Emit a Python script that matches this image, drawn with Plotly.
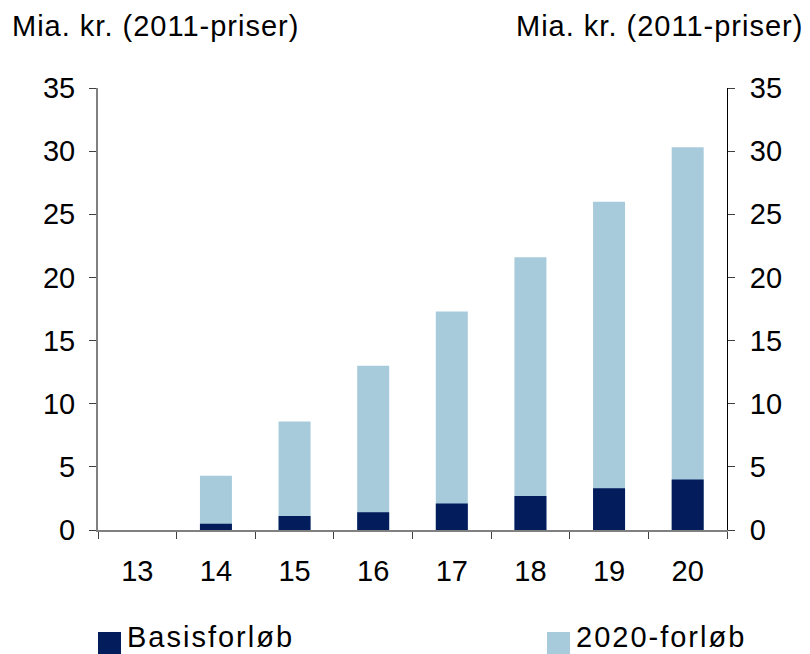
import plotly.graph_objects as go

years = ["13", "14", "15", "16", "17", "18", "19", "20"]
basis = [0, 0.5, 1.1, 1.4, 2.1, 2.7, 3.3, 4.0]
forloeb_2020 = [0, 4.3, 8.6, 13.0, 17.3, 21.6, 26.0, 30.3]
series_names = ["Basisforløb", "2020-forløb"]
y_ticks = [0, 5, 10, 15, 20, 25, 30, 35]
unit_label = "Mia. kr. (2011-priser)"

DARK = "#031C5B"
LIGHT = "#A8CBDB"
FONT = "Liberation Sans, Arial, sans-serif"
FS = 29

W, H = 810, 654
ML, MR, MT, MB = 98, 83, 88, 124
PW = W - ML - MR
PH = H - MT - MB


def px_x(px):
    return (px - ML) / PW


def px_y(py):
    return (H - MB - py) / PH


def spaced(text, px):
    return f'<span style="letter-spacing:{px}px">{text}</span>'


fig = go.Figure()
fig.add_trace(go.Bar(x=years, y=forloeb_2020, name=series_names[1],
                     marker=dict(color=LIGHT, line=dict(width=0)),
                     showlegend=False))
fig.add_trace(go.Bar(x=years, y=basis, name=series_names[0],
                     marker=dict(color=DARK, line=dict(width=0)),
                     showlegend=False))
# invisible trace to anchor the right axis
fig.add_trace(go.Scatter(x=years, y=basis, yaxis="y2", mode="markers",
                         marker=dict(opacity=0), hoverinfo="skip",
                         showlegend=False))

fig.update_layout(
    width=W, height=H,
    margin=dict(l=ML, r=MR, t=MT, b=MB, pad=0),
    paper_bgcolor="white", plot_bgcolor="white",
    barmode="overlay", bargap=0.593,
    font=dict(family=FONT, size=FS, color="black"),
    xaxis=dict(
        type="category", showgrid=False, zeroline=False,
        showline=True, linecolor="#808080", linewidth=2,
        ticks="outside", tickson="boundaries", ticklen=7,
        tickcolor="#404040", tickwidth=1,
        tickfont=dict(family=FONT, size=FS, color="black"),
        ticklabelstandoff=14,
    ),
    yaxis=dict(
        range=[0, 35], tickvals=y_ticks, showgrid=False, zeroline=False,
        showline=True, linecolor="#808080", linewidth=2,
        ticks="outside", ticklen=7, tickcolor="#404040", tickwidth=1,
        tickfont=dict(family=FONT, size=FS, color="black"),
        ticklabelstandoff=8,
    ),
    yaxis2=dict(
        range=[0, 35], tickvals=y_ticks, overlaying="y", side="right",
        showgrid=False, zeroline=False,
        showline=True, linecolor="black", linewidth=1,
        ticks="outside", ticklen=7, tickcolor="#404040", tickwidth=1,
        tickfont=dict(family=FONT, size=FS, color="black"),
        ticklabelstandoff=9,
    ),
)

# axis unit labels
fig.add_annotation(text=spaced(unit_label, 1), xref="paper", yref="paper",
                   x=px_x(10), y=px_y(26), xanchor="left", yanchor="middle",
                   showarrow=False, font=dict(family=FONT, size=FS))
fig.add_annotation(text=spaced(unit_label, 1), xref="paper", yref="paper",
                   x=px_x(805), y=px_y(26), xanchor="right", yanchor="middle",
                   showarrow=False, font=dict(family=FONT, size=FS))

# custom legend
legend_items = [(series_names[0], DARK, 98), (series_names[1], LIGHT, 547)]
for name, color, x0 in legend_items:
    fig.add_shape(type="rect", xref="paper", yref="paper",
                  x0=px_x(x0), x1=px_x(x0 + 23), y0=px_y(654), y1=px_y(632),
                  fillcolor=color, line=dict(width=0), layer="above")
    fig.add_annotation(text=spaced(name, 2), xref="paper", yref="paper",
                       x=px_x(x0 + 27), y=px_y(637), xanchor="left",
                       yanchor="middle", showarrow=False,
                       font=dict(family=FONT, size=FS))

fig.write_html(
    "out.html",
    config={"displayModeBar": False},
    post_script="document.body.style.margin='0';document.body.style.overflow='hidden';",
)
